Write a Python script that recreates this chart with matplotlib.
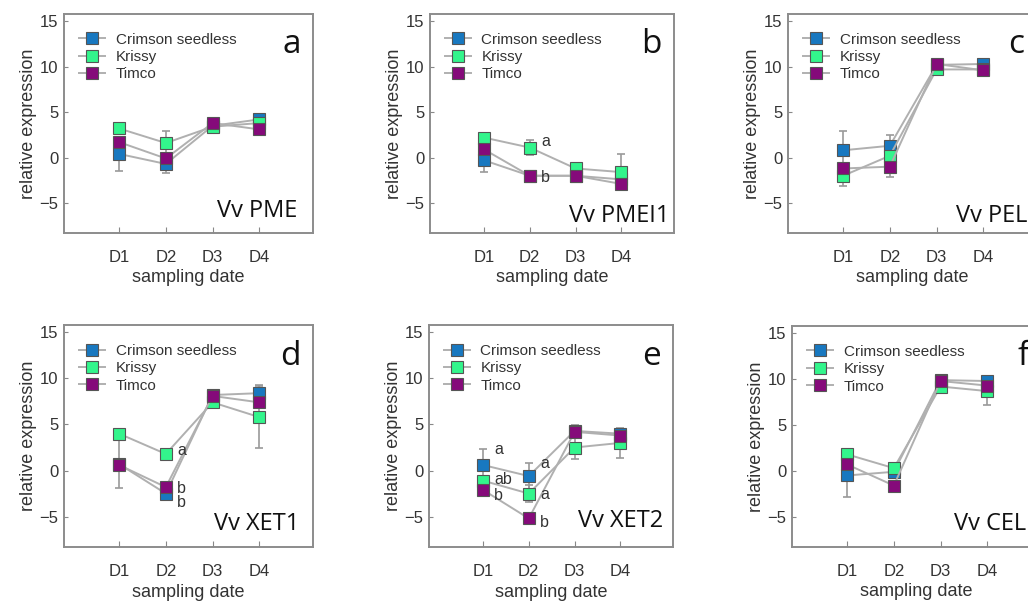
import numpy as np
import matplotlib
matplotlib.use("Agg")
import matplotlib.pyplot as plt

plt.rcParams["font.family"] = ["Liberation Sans", "DejaVu Sans"]

# sampling dates
DATES = [1, 2, 3, 4]
DATE_LABELS = ["D1", "D2", "D3", "D4"]
VARIETIES = ["Crimson seedless", "Krissy", "Timco"]

# relative expression (mean) and error per variety, per gene
PME_CS = [0.4, -0.7, 3.5, 4.2]
PME_KR = [3.2, 1.6, 3.4, 3.8]
PME_TI = [1.7, -0.1, 3.8, 3.1]
PME_CS_ERR = [1.9, 1.0, 0.5, 0.4]
PME_KR_ERR = [0.4, 1.3, 0.4, 0.3]
PME_TI_ERR = [0.4, 0.5, 0.5, 0.3]

PMEI1_CS = [-0.3, -2.0, -2.0, -2.4]
PMEI1_KR = [2.2, 1.1, -1.2, -1.6]
PMEI1_TI = [0.9, -2.0, -2.0, -2.9]
PMEI1_CS_ERR = [1.3, 0.3, 0.4, 0.5]
PMEI1_KR_ERR = [0.4, 0.8, 0.3, 2.0]
PMEI1_TI_ERR = [0.5, 0.3, 0.4, 0.5]

PEL_CS = [0.8, 1.3, 10.2, 10.3]
PEL_KR = [-2.0, 0.2, 9.7, 9.7]
PEL_TI = [-1.2, -1.0, 10.3, 9.6]
PEL_CS_ERR = [2.1, 1.2, 0.4, 0.3]
PEL_KR_ERR = [1.1, 0.5, 0.4, 0.3]
PEL_TI_ERR = [0.5, 1.1, 0.4, 0.6]

XET1_CS = [0.7, -2.5, 8.2, 8.4]
XET1_KR = [4.0, 1.8, 7.4, 5.8]
XET1_TI = [0.6, -1.8, 8.1, 7.4]
XET1_CS_ERR = [2.6, 0.6, 0.4, 0.9]
XET1_KR_ERR = [0.5, 0.3, 0.4, 3.4]
XET1_TI_ERR = [0.4, 0.4, 0.5, 0.4]

XET2_CS = [0.6, -0.6, 4.3, 4.0]
XET2_KR = [-1.1, -2.5, 2.5, 3.0]
XET2_TI = [-2.1, -5.2, 4.2, 3.8]
XET2_CS_ERR = [1.7, 1.4, 0.6, 0.4]
XET2_KR_ERR = [0.5, 0.9, 1.2, 1.6]
XET2_TI_ERR = [0.4, 0.3, 0.5, 0.4]

CEL_CS = [-0.5, -0.1, 9.9, 9.8]
CEL_KR = [1.8, 0.3, 9.2, 8.7]
CEL_TI = [0.7, -1.6, 9.8, 9.3]
CEL_CS_ERR = [2.4, 0.3, 0.3, 0.3]
CEL_KR_ERR = [0.4, 0.3, 0.4, 1.5]
CEL_TI_ERR = [0.4, 0.4, 0.4, 0.4]

# significance letters: (date, y, text)
PMEI1_SIG = [(2, 1.8, "a"), (2, -2.2, "b")]
XET1_SIG = [(2, 2.2, "a"), (2, -1.9, "b"), (2, -3.5, "b")]
XET2_SIG = [(1, 2.3, "a"), (1, -1.0, "ab"), (1, -2.7, "b"),
            (2, 0.8, "a"), (2, -2.6, "a"), (2, -5.6, "b")]

COLORS = ["#1878c0", "#33f58c", "#850a7a"]

W, H = 1028, 605

# panels: letter, gene label, data, sig letters, axes px box (left, top, width, height), label x/y
PANELS = [
    ("a", "Vv PME", (PME_CS, PME_KR, PME_TI), (PME_CS_ERR, PME_KR_ERR, PME_TI_ERR),
     [], (64, 14, 249, 219), (0.935, 0.075)),
    ("b", "Vv PMEI1", (PMEI1_CS, PMEI1_KR, PMEI1_TI), (PMEI1_CS_ERR, PMEI1_KR_ERR, PMEI1_TI_ERR),
     PMEI1_SIG, (430, 14, 244, 219), (0.98, 0.05)),
    ("c", "Vv PEL", (PEL_CS, PEL_KR, PEL_TI), (PEL_CS_ERR, PEL_KR_ERR, PEL_TI_ERR),
     [], (788, 14, 249, 219), (0.96, 0.05)),
    ("d", "Vv XET1", (XET1_CS, XET1_KR, XET1_TI), (XET1_CS_ERR, XET1_KR_ERR, XET1_TI_ERR),
     XET1_SIG, (64, 325, 249, 222), (0.945, 0.077)),
    ("e", "Vv XET2", (XET2_CS, XET2_KR, XET2_TI), (XET2_CS_ERR, XET2_KR_ERR, XET2_TI_ERR),
     XET2_SIG, (429, 325, 244, 222), (0.96, 0.09)),
    ("f", "Vv CEL", (CEL_CS, CEL_KR, CEL_TI), (CEL_CS_ERR, CEL_KR_ERR, CEL_TI_ERR),
     [], (792, 326, 249, 221), (0.94, 0.077)),
]

fig = plt.figure(figsize=(W / 100, H / 100), dpi=100)

for letter, gene, series, errs, sig, box, lab in PANELS:
    l, t, w, h = box
    ax = fig.add_axes([l / W, 1 - (t + h) / H, w / W, h / H])
    x = np.array(DATES)
    for name, vals, err, col in zip(VARIETIES, series, errs, COLORS):
        ax.errorbar(x, vals, yerr=err, fmt="none", ecolor="#9a9a9a",
                    elinewidth=1.2, capsize=3, capthick=1.2, zorder=2)
        ax.plot(x, vals, color="#b0b0b0", linewidth=1.4, marker="s",
                markersize=8.5, markerfacecolor=col, markeredgecolor="#555555",
                markeredgewidth=0.8, zorder=3, label=name)
    for d, y, s in sig:
        ax.annotate(s, xy=(d, y), xytext=(8, 0), textcoords="offset points",
                    ha="left", va="center", fontsize=11.5, color="#333333")

    ax.set_xlim(-0.18, 5.15)
    ax.set_ylim(-8.3, 15.8)
    ax.set_yticks([-5, 0, 5, 10, 15])
    ax.set_yticklabels(["\u22125", "0", "5", "10", "15"])
    ax.set_xticks(DATES)
    ax.set_xticklabels(DATE_LABELS)
    ax.tick_params(axis="y", direction="in", length=3, color="#888888",
                   labelsize=12, labelcolor="#333333", pad=4)
    ax.tick_params(axis="x", direction="in", length=4, color="#888888",
                   labelsize=12, labelcolor="#333333", pad=12)
    for sp in ax.spines.values():
        sp.set_color("#8c8c8c")
        sp.set_linewidth(1.4)

    ax.set_ylabel("relative expression", fontsize=13, color="#333333")
    ax.yaxis.set_label_coords(-0.11, 0.5)
    ax.set_xlabel("sampling date", fontsize=13, color="#333333")
    ax.xaxis.set_label_coords(0.5, -0.165)

    ax.legend(loc="upper left", bbox_to_anchor=(0.06, 0.915), frameon=False,
              fontsize=11, handlelength=1.7, handletextpad=0.7,
              labelspacing=0.22, borderpad=0, borderaxespad=0,
              labelcolor="#333333")

    ax.text(0.95, 0.86, letter, transform=ax.transAxes, ha="right", va="center",
            fontsize=24, family="Open Sans", color="#111111")
    ax.text(lab[0], lab[1], gene, transform=ax.transAxes, ha="right",
            va="baseline", fontsize=17, family="Open Sans", color="#111111")

fig.savefig("out.png", dpi=100)
